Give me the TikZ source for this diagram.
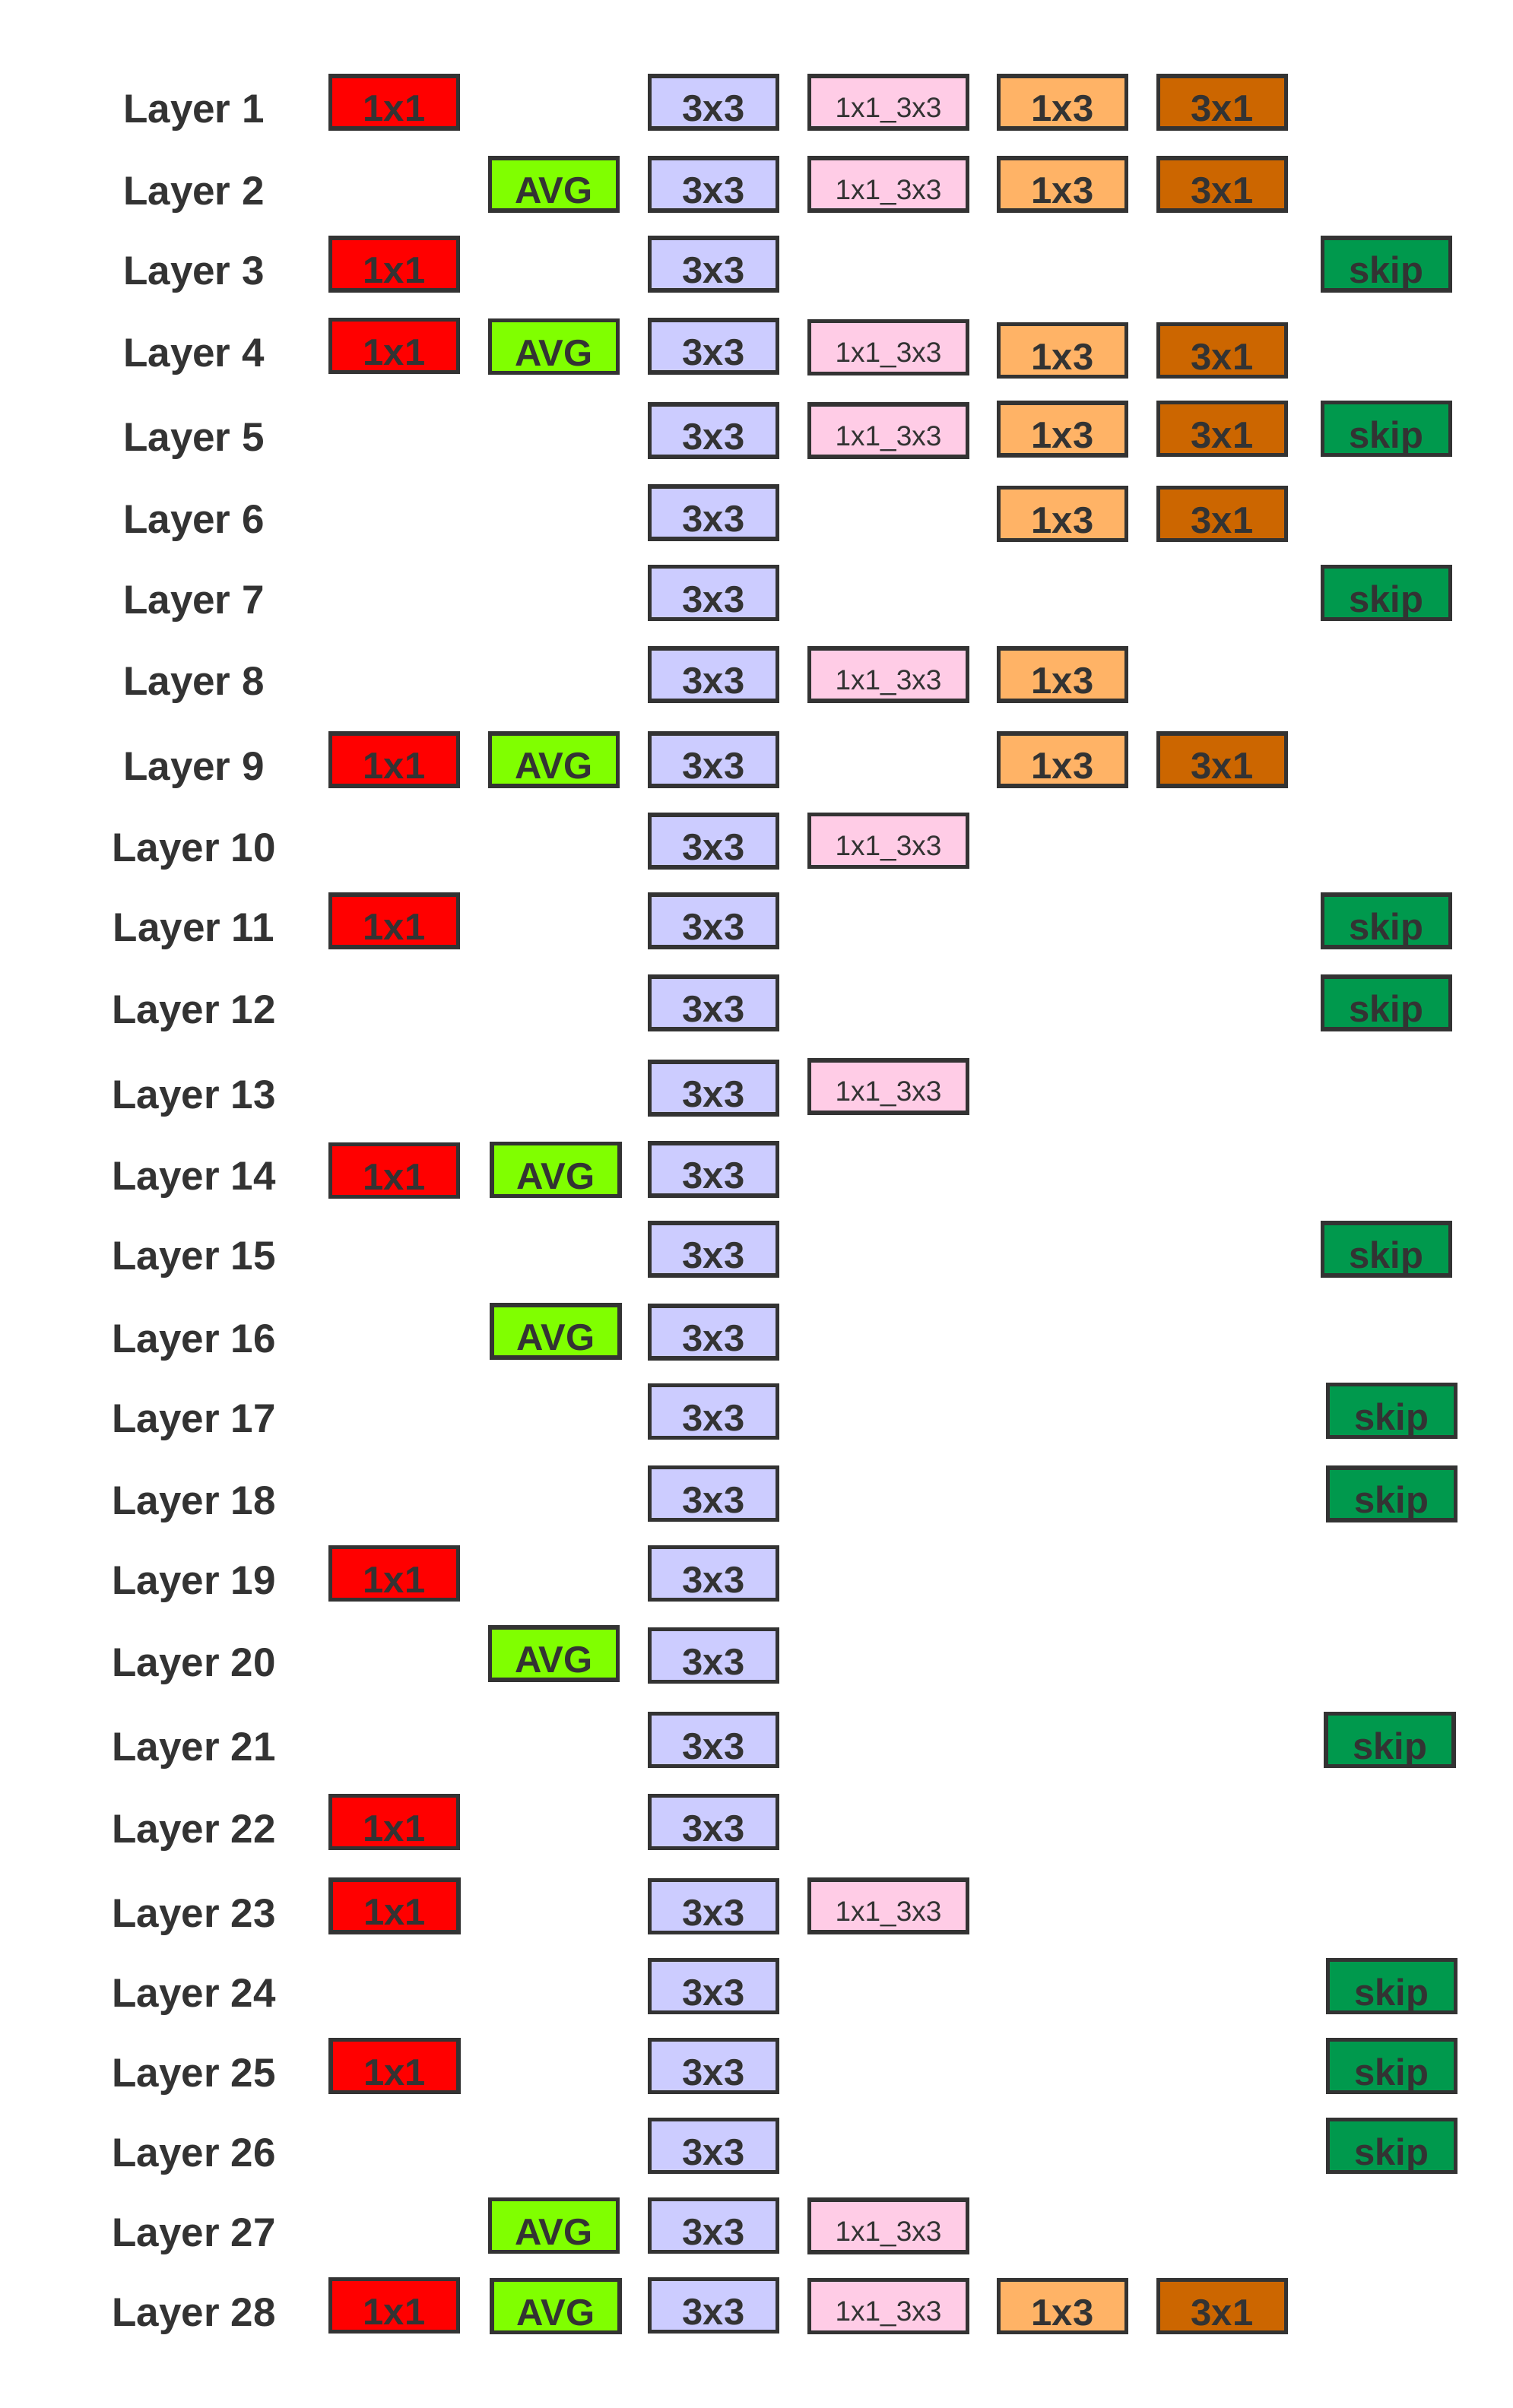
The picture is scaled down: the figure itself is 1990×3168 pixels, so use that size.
\documentclass[tikz,border=0pt]{standalone}
\usepackage{fontspec}
\setmainfont{Liberation Sans}
\definecolor{ink}{HTML}{333333}
\definecolor{cA}{HTML}{FF0000}
\definecolor{cG}{HTML}{80FF00}
\definecolor{cT}{HTML}{CCCCFF}
\definecolor{cP}{HTML}{FFCCE6}
\definecolor{cH}{HTML}{FFB366}
\definecolor{cV}{HTML}{CC6600}
\definecolor{cS}{HTML}{00994D}
\tikzset{
  opbox/.style={draw=ink, line width=2.85pt, inner sep=0pt, minimum width=84pt, minimum height=34.5pt,
    text=ink, font=\fontsize{24.5pt}{28pt}\selectfont\bfseries, text height=25pt, text depth=0pt},
  bA/.style={opbox, fill=cA},
  bG/.style={opbox, fill=cG},
  bT/.style={opbox, fill=cT},
  bP/.style={opbox, fill=cP, minimum width=104pt, font=\fontsize{18.5pt}{22pt}\selectfont, text height=19.5pt},
  bH/.style={opbox, fill=cH},
  bV/.style={opbox, fill=cV},
  bS/.style={opbox, fill=cS},
  lbl/.style={inner sep=0pt, text=ink, font=\fontsize{26.5pt}{30pt}\selectfont\bfseries, text height=27pt, text depth=0pt}
}
\begin{document}
\begin{tikzpicture}[x=0.5pt,y=-0.5pt]
\useasboundingbox (0,0) rectangle (1990,3168);
% Layer 1
\node[lbl] (L1) at (255,134.8) {Layer 1};
\node[bA] (a1) at (518.5,134.8) {1x1};
\node[bT] (t1) at (938.5,134.8) {3x3};
\node[bP] (p1) at (1168.5,134.8) {1x1\_3x3};
\node[bH] (h1) at (1397.5,134.8) {1x3};
\node[bV] (v1) at (1607.5,134.8) {3x1};
% Layer 2
\node[lbl] (L2) at (255,242.8) {Layer 2};
\node[bG] (g2) at (728.5,242.8) {AVG};
\node[bT] (t2) at (938.5,242.8) {3x3};
\node[bP] (p2) at (1168.5,242.8) {1x1\_3x3};
\node[bH] (h2) at (1397.5,242.8) {1x3};
\node[bV] (v2) at (1607.5,242.8) {3x1};
% Layer 3
\node[lbl] (L3) at (255,347.7) {Layer 3};
\node[bA] (a3) at (518.5,347.7) {1x1};
\node[bT] (t3) at (938.5,347.7) {3x3};
\node[bS] (s3) at (1823.5,347.7) {skip};
% Layer 4
\node[lbl] (L4) at (255,455.8) {Layer 4};
\node[bA] (a4) at (518.5,455) {1x1};
\node[bG] (g4) at (728.5,456) {AVG};
\node[bT] (t4) at (938.5,455.8) {3x3};
\node[bP] (p4) at (1168.5,457) {1x1\_3x3};
\node[bH] (h4) at (1397.5,461) {1x3};
\node[bV] (v4) at (1607.5,461) {3x1};
% Layer 5
\node[lbl] (L5) at (255,566.8) {Layer 5};
\node[bT] (t5) at (938.5,566.8) {3x3};
\node[bP] (p5) at (1168.5,566.8) {1x1\_3x3};
\node[bH] (h5) at (1397.5,564.3) {1x3};
\node[bV] (v5) at (1607.5,564) {3x1};
\node[bS] (s5) at (1823.5,564) {skip};
% Layer 6
\node[lbl] (L6) at (255,674.8) {Layer 6};
\node[bT] (t6) at (938.5,674.8) {3x3};
\node[bH] (h6) at (1397.5,676) {1x3};
\node[bV] (v6) at (1607.5,676) {3x1};
% Layer 7
\node[lbl] (L7) at (255,780) {Layer 7};
\node[bT] (t7) at (938.5,780) {3x3};
\node[bS] (s7) at (1823.5,780) {skip};
% Layer 8
\node[lbl] (L8) at (255,887.8) {Layer 8};
\node[bT] (t8) at (938.5,887.8) {3x3};
\node[bP] (p8) at (1168.5,887.8) {1x1\_3x3};
\node[bH] (h8) at (1397.5,887.8) {1x3};
% Layer 9
\node[lbl] (L9) at (255,999.2) {Layer 9};
\node[bA] (a9) at (518.5,999.2) {1x1};
\node[bG] (g9) at (728.5,999.2) {AVG};
\node[bT] (t9) at (938.5,999.2) {3x3};
\node[bH] (h9) at (1397.5,999.2) {1x3};
\node[bV] (v9) at (1607.5,999.2) {3x1};
% Layer 10
\node[lbl] (L10) at (255,1106.8) {Layer 10};
\node[bT] (t10) at (938.5,1106.8) {3x3};
\node[bP] (p10) at (1168.5,1106) {1x1\_3x3};
% Layer 11
\node[lbl] (L11) at (255,1211.8) {Layer 11};
\node[bA] (a11) at (518.5,1211.8) {1x1};
\node[bT] (t11) at (938.5,1211.8) {3x3};
\node[bS] (s11) at (1823.5,1211.8) {skip};
% Layer 12
\node[lbl] (L12) at (255,1319.8) {Layer 12};
\node[bT] (t12) at (938.5,1319.8) {3x3};
\node[bS] (s12) at (1823.5,1319.8) {skip};
% Layer 13
\node[lbl] (L13) at (255,1431.2) {Layer 13};
\node[bT] (t13) at (938.5,1431.2) {3x3};
\node[bP] (p13) at (1168.5,1429.2) {1x1\_3x3};
% Layer 14
\node[lbl] (L14) at (255,1538.8) {Layer 14};
\node[bA] (a14) at (518.5,1540) {1x1};
\node[bG] (g14) at (731,1539) {AVG};
\node[bT] (t14) at (938.5,1538.8) {3x3};
% Layer 15
\node[lbl] (L15) at (255,1643.8) {Layer 15};
\node[bT] (t15) at (938.5,1643.8) {3x3};
\node[bS] (s15) at (1823.5,1643.8) {skip};
% Layer 16
\node[lbl] (L16) at (255,1752.2) {Layer 16};
\node[bG] (g16) at (731,1751.2) {AVG};
\node[bT] (t16) at (938.5,1752.2) {3x3};
% Layer 17
\node[lbl] (L17) at (255,1857) {Layer 17};
\node[bT] (t17) at (938.5,1857) {3x3};
\node[bS] (s17) at (1830.5,1856) {skip};
% Layer 18
\node[lbl] (L18) at (255,1965) {Layer 18};
\node[bT] (t18) at (938.5,1965) {3x3};
\node[bS] (s18) at (1830.5,1965.3) {skip};
% Layer 19
\node[lbl] (L19) at (255,2070) {Layer 19};
\node[bA] (a19) at (518.5,2070) {1x1};
\node[bT] (t19) at (938.5,2070) {3x3};
% Layer 20
\node[lbl] (L20) at (255,2178) {Layer 20};
\node[bG] (g20) at (728.5,2175.5) {AVG};
\node[bT] (t20) at (938.5,2178) {3x3};
% Layer 21
\node[lbl] (L21) at (255,2289) {Layer 21};
\node[bT] (t21) at (938.5,2289) {3x3};
\node[bS] (s21) at (1828,2289) {skip};
% Layer 22
\node[lbl] (L22) at (255,2397) {Layer 22};
\node[bA] (a22) at (518.5,2397) {1x1};
\node[bT] (t22) at (938.5,2397) {3x3};
% Layer 23
\node[lbl] (L23) at (255,2508) {Layer 23};
\node[bA] (a23) at (519,2507.5) {1x1};
\node[bT] (t23) at (938.5,2508) {3x3};
\node[bP] (p23) at (1168.5,2507.7) {1x1\_3x3};
% Layer 24
\node[lbl] (L24) at (255,2613) {Layer 24};
\node[bT] (t24) at (938.5,2613) {3x3};
\node[bS] (s24) at (1830.5,2613) {skip};
% Layer 25
\node[lbl] (L25) at (255,2718) {Layer 25};
\node[bA] (a25) at (519,2718) {1x1};
\node[bT] (t25) at (938.5,2718) {3x3};
\node[bS] (s25) at (1830.5,2718) {skip};
% Layer 26
\node[lbl] (L26) at (255,2823) {Layer 26};
\node[bT] (t26) at (938.5,2823) {3x3};
\node[bS] (s26) at (1830.5,2823) {skip};
% Layer 27
\node[lbl] (L27) at (255,2928) {Layer 27};
\node[bG] (g27) at (728.5,2928) {AVG};
\node[bT] (t27) at (938.5,2928) {3x3};
\node[bP] (p27) at (1168.5,2928.5) {1x1\_3x3};
% Layer 28
\node[lbl] (L28) at (255,3033) {Layer 28};
\node[bA] (a28) at (518.5,3033) {1x1};
\node[bG] (g28) at (731,3034) {AVG};
\node[bT] (t28) at (938.5,3033) {3x3};
\node[bP] (p28) at (1168.5,3034) {1x1\_3x3};
\node[bH] (h28) at (1397.5,3034) {1x3};
\node[bV] (v28) at (1607.5,3034) {3x1};
\end{tikzpicture}
\end{document}
